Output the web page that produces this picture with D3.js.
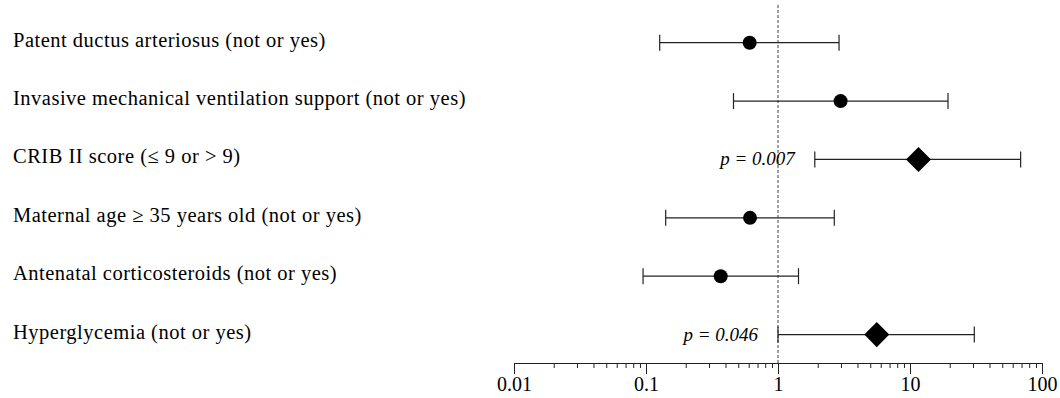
<!DOCTYPE html>
<html>
<head>
<meta charset="utf-8">
<script src="https://cdn.jsdelivr.net/npm/d3@7"></script>
<style>
  body { margin: 0; background: #fff; }
  svg { display: block; font-family: "Liberation Serif", "DejaVu Serif", serif; }
</style>
</head>
<body>
<div id="chart"></div>
<script>
// rows, top to bottom
const labels = [
  'Patent ductus arteriosus (not or yes)',
  'Invasive mechanical ventilation support (not or yes)',
  'CRIB II score (\u2264 9 or > 9)',
  'Maternal age \u2265 35 years old (not or yes)',
  'Antenatal corticosteroids (not or yes)',
  'Hyperglycemia (not or yes)'
]
const oddsRatio = [0.61, 2.98, 11.6, 0.614, 0.368, 5.6]
const ciLow = [0.127, 0.46, 1.90, 0.141, 0.095, 1.0]
const ciHigh = [2.90, 19.4, 68.9, 2.67, 1.43, 30.7]
const markerShape = ['circle', 'circle', 'diamond', 'circle', 'circle', 'diamond']
const pLabel = ['', '', '0.007', '', '', '0.046']
const tickLabels = ['0.01', '0.1', '1', '10', '100']

const width = 1060, height = 398

const svg = d3.select('#chart')
  .append('svg')
  .attr('width', width)
  .attr('height', height)

const x = d3.scaleLog()
  .domain([0.01, 100])
  .range([514, 1042])

const y = d3.scalePoint()
  .domain(d3.range(labels.length))
  .range([42.7, 334.6])

const axisY = 363

// reference line at 1
svg.append('line')
  .attr('x1', x(1)).attr('x2', x(1))
  .attr('y1', 5).attr('y2', axisY)
  .attr('stroke', '#444')
  .attr('stroke-width', 1)
  .attr('stroke-dasharray', '3,2')

// minor ticks
const minorTicks = []
for (let d = 0.01; d < 100; d *= 10) {
  for (let k = 2; k <= 9; k++) minorTicks.push(+(d * k).toPrecision(3))
}
svg.append('g')
  .attr('transform', `translate(0,${axisY})`)
  .call(d3.axisBottom(x).tickValues(minorTicks).tickSize(5).tickSizeOuter(0).tickFormat(''))
  .call(g => g.select('.domain').remove())
  .call(g => g.selectAll('line').attr('stroke', '#222'))

// major ticks and labels
const axis = svg.append('g')
  .attr('transform', `translate(0,${axisY})`)
  .call(d3.axisBottom(x)
    .tickValues(tickLabels.map(Number))
    .tickSize(11)
    .tickSizeOuter(0)
    .tickPadding(3)
    .tickFormat((d, i) => tickLabels[i]))
axis.select('.domain').attr('stroke', '#222')
axis.selectAll('line').attr('stroke', '#222')
axis.selectAll('text')
  .attr('font-family', '"Liberation Serif", serif')
  .attr('font-size', 20)
  .attr('fill', '#000')

// row labels
svg.append('g')
  .selectAll('text')
  .data(labels)
  .join('text')
  .attr('x', 13)
  .attr('y', (d, i) => y(i) + 4)
  .attr('font-size', 20.5)
  .attr('letter-spacing', 0.5)
  .attr('fill', '#000')
  .text(d => d)

const rows = svg.append('g')
  .selectAll('g')
  .data(labels.map((d, i) => i))
  .join('g')
  .attr('transform', i => `translate(0,${y(i)})`)

// whiskers
rows.append('line')
  .attr('x1', i => x(ciLow[i]))
  .attr('x2', i => x(ciHigh[i]))
  .attr('stroke', '#222')
  .attr('stroke-width', 1.2)
rows.selectAll('.cap')
  .data(i => [ciLow[i], ciHigh[i]])
  .join('line')
  .attr('class', 'cap')
  .attr('x1', d => x(d)).attr('x2', d => x(d))
  .attr('y1', -8).attr('y2', 8)
  .attr('stroke', '#222')
  .attr('stroke-width', 1.2)

// markers
rows.append('path')
  .attr('transform', i => `translate(${x(oddsRatio[i])},0)`)
  .attr('d', i => markerShape[i] === 'diamond'
    ? d3.symbol(d3.symbolDiamond2, 400)()
    : d3.symbol(d3.symbolCircle, Math.PI * 7 * 7)())
  .attr('fill', '#000')

// p values
const pText = rows.filter(i => pLabel[i] !== '')
  .append('text')
  .attr('x', i => x(ciLow[i]) - 20)
  .attr('y', 6)
  .attr('text-anchor', 'end')
  .attr('font-style', 'italic')
  .attr('font-size', 19)
  .attr('fill', '#000')
pText.text(i => 'p = ' + pLabel[i])
</script>
</body>
</html>
